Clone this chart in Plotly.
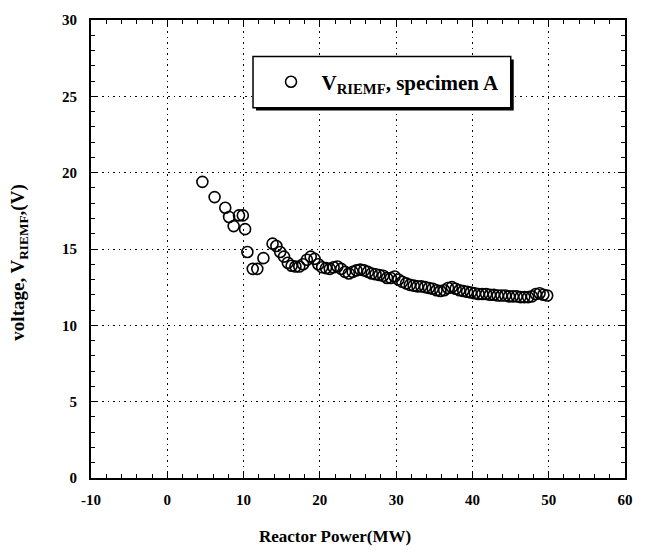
import plotly.graph_objects as go

# Sparse low-power points
power_low = [4.6, 6.2, 7.6, 8.1, 8.7, 9.4, 9.9, 10.2, 10.5, 11.2, 11.8, 12.6]
volt_low = [19.4, 18.4, 17.7, 17.1, 16.5, 17.2, 17.2, 16.3, 14.8, 13.7, 13.7, 14.4]

# Dense points from ~14 MW upward
power_high = [13.8, 14.3, 14.8, 15.3, 15.8, 16.3, 16.8, 17.3, 17.8, 18.3, 18.8, 19.3,
              19.8, 20.3, 20.8, 21.3, 21.8, 22.3, 22.8, 23.3, 23.8, 24.3, 24.8, 25.3,
              25.8, 26.3, 26.8, 27.3, 27.8, 28.3, 28.8, 29.3, 29.8, 30.3, 30.8, 31.3,
              31.8, 32.3, 32.8, 33.3, 33.8, 34.3, 34.8, 35.3, 35.8, 36.3, 36.8, 37.3,
              37.8, 38.3, 38.8, 39.3, 39.8, 40.3, 40.8, 41.3, 41.8, 42.3, 42.8, 43.3,
              43.8, 44.3, 44.8, 45.3, 45.8, 46.3, 46.8, 47.3, 47.8, 48.3, 48.8, 49.3, 49.8]
volt_high = [15.35, 15.2, 14.8, 14.5, 14.1, 13.9, 13.85, 13.85, 14.0, 14.3, 14.5, 14.35,
             14.0, 13.8, 13.75, 13.7, 13.8, 13.85, 13.7, 13.5, 13.4, 13.5, 13.6, 13.65,
             13.6, 13.5, 13.4, 13.35, 13.3, 13.25, 13.1, 13.1, 13.2, 13.0, 12.85, 12.75,
             12.65, 12.6, 12.55, 12.55, 12.5, 12.45, 12.4, 12.3, 12.25, 12.3, 12.45, 12.5,
             12.4, 12.3, 12.25, 12.2, 12.15, 12.1, 12.05, 12.05, 12.05, 12.0, 12.0, 11.95,
             11.95, 11.95, 11.9, 11.9, 11.9, 11.85, 11.85, 11.85, 11.9, 12.05, 12.1, 12.0, 11.95]

x_ticks = [-10, 0, 10, 20, 30, 40, 50, 60]
x_ticktext = ["-10", "0", "10", "20", "30", "40", "50", "60"]
y_ticks = [0, 5, 10, 15, 20, 25, 30]
y_ticktext = ["0", "5", "10", "15", "20", "25", "30"]

power = power_low + power_high
volt = volt_low + volt_high

FONT = "Liberation Serif"

fig = go.Figure()
fig.add_trace(go.Scatter(
    x=power, y=volt, mode="markers",
    name="&nbsp;&nbsp;<b>V<sub>RIEMF</sub>, specimen A</b>",
    marker=dict(symbol="circle-open", size=11, color="black", line=dict(width=1.6, color="black")),
))

axis_common = dict(
    showline=True, linecolor="black", linewidth=2, mirror="allticks",
    ticks="inside", tickcolor="black", tickwidth=1.3, ticklen=7,
    showgrid=True, gridcolor="black", griddash="1.5px,4px", gridwidth=1.2,
    zeroline=False,
    tickfont=dict(family=FONT, size=15, color="black", weight="bold"),
)

fig.update_xaxes(range=[-10, 60], tickvals=x_ticks, ticktext=x_ticktext, ticklabelstandoff=7,
                 minor=dict(dtick=2, ticks="inside", ticklen=4, tickcolor="black", tickwidth=1.2, showgrid=False),
                 **axis_common)
fig.update_yaxes(range=[0, 30], tickvals=y_ticks, ticktext=y_ticktext, ticklabelstandoff=9,
                 minor=dict(dtick=1, ticks="inside", ticklen=4, tickcolor="black", tickwidth=1.2, showgrid=False),
                 **axis_common)

# Legend box with shadow
bx0, bx1, by0, by1 = 0.3034, 0.786, 0.8086, 0.9204
dx, dy = 3 / 534, 3 / 465
fig.add_shape(type="rect", xref="paper", yref="paper", x0=bx0 + dx, x1=bx1 + dx, y0=by0 - dy, y1=by1 - dy,
              fillcolor="black", line=dict(width=0), layer="above")
fig.add_shape(type="rect", xref="paper", yref="paper", x0=bx0, x1=bx1, y0=by0, y1=by1,
              fillcolor="white", line=dict(width=1.5, color="black"), layer="above")

fig.update_layout(
    width=646, height=553,
    margin=dict(l=91, r=21, t=13, b=75),
    paper_bgcolor="white", plot_bgcolor="white",
    showlegend=True,
    legend=dict(x=0.3034 + 18 / 534, y=0.8645, xanchor="left", yanchor="middle",
                bgcolor="rgba(0,0,0,0)", borderwidth=0,
                font=dict(family=FONT, size=21, color="black")),
    annotations=[
        dict(text="<b>Reactor Power(MW)</b>", xref="paper", yref="paper", x=0.457, y=-0.127,
             xanchor="center", yanchor="middle", showarrow=False,
             font=dict(family=FONT, size=17, color="black")),
        dict(text="<b>voltage, V<sub>RIEMF</sub>,(V)</b>", xref="paper", yref="paper", x=-0.135, y=0.47,
             xanchor="center", yanchor="middle", textangle=-90, showarrow=False,
             font=dict(family=FONT, size=19, color="black")),
    ],
)

fig.write_html("out.html", config={"displayModeBar": False},
               post_script="document.body.style.margin='0';document.body.style.overflow='hidden';")
